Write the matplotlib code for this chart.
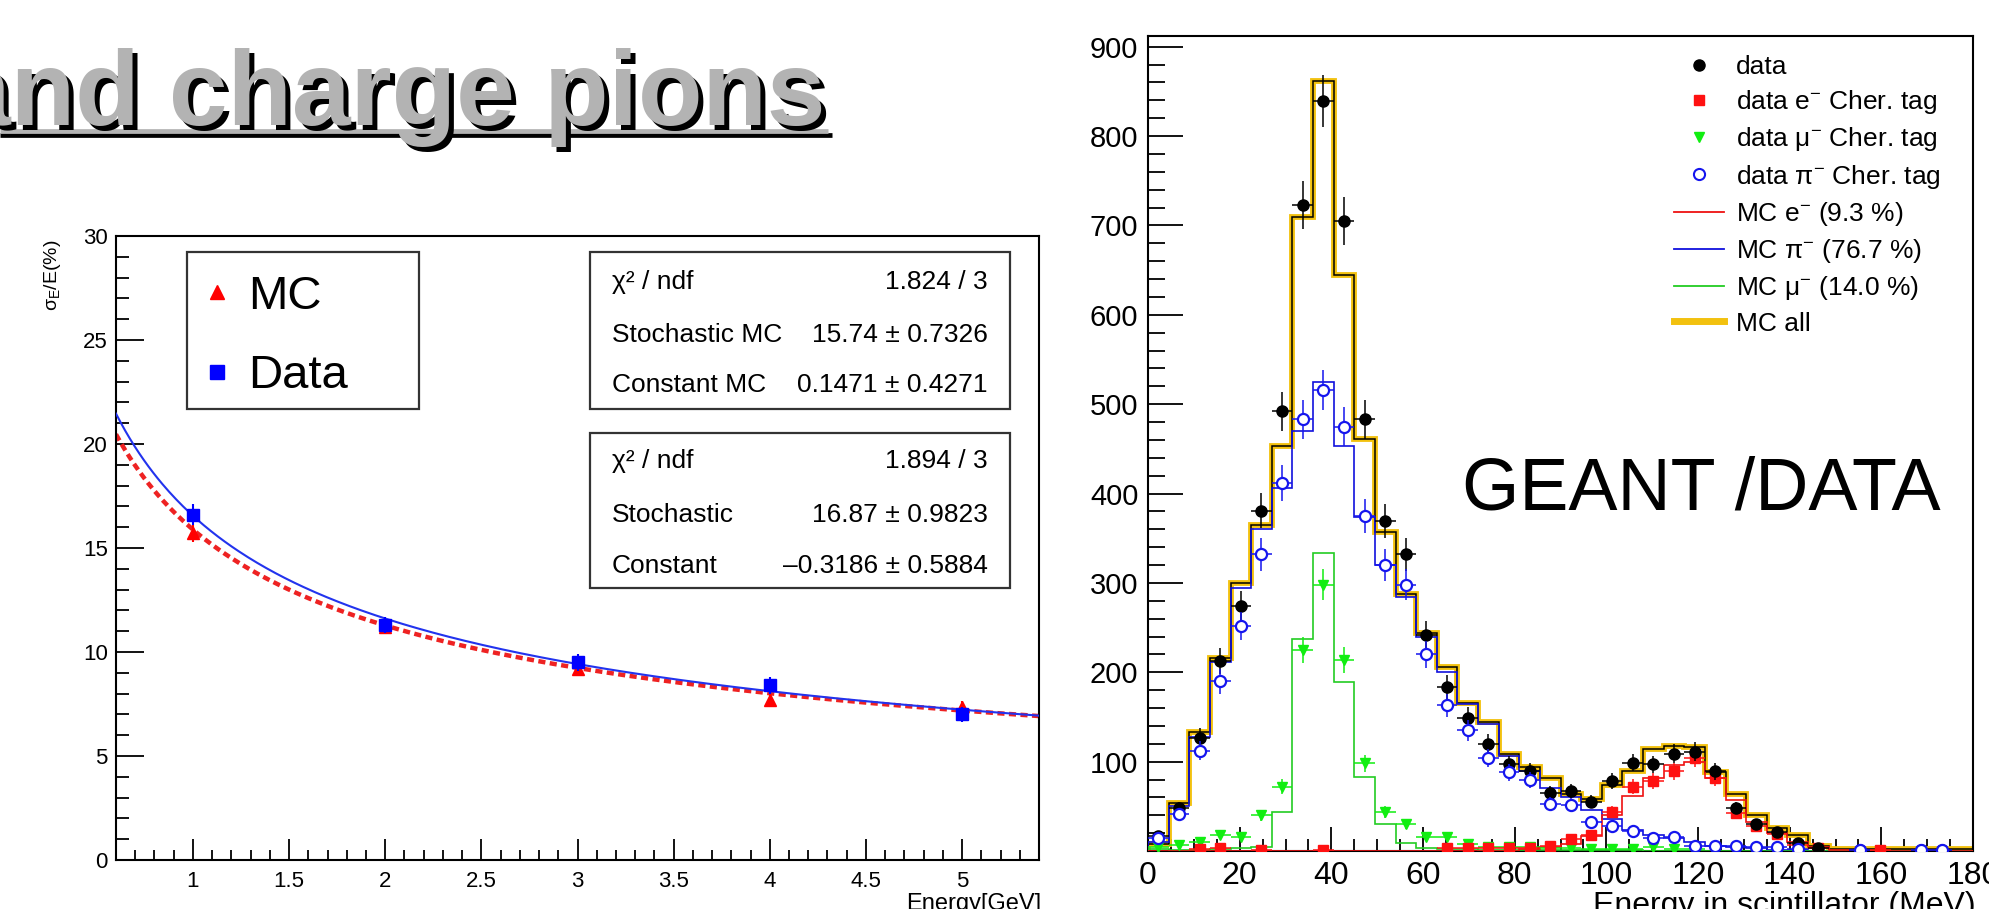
import numpy as np
import matplotlib
matplotlib.use('Agg')
import matplotlib.pyplot as plt
from matplotlib.patches import Rectangle
from matplotlib.lines import Line2D
from matplotlib.ticker import MultipleLocator, FixedLocator, FormatStrFormatter
import matplotlib.transforms as mtransforms

plt.rcParams['font.family'] = ['Liberation Sans', 'DejaVu Sans']
plt.rcParams['mathtext.fontset'] = 'custom'
plt.rcParams['mathtext.rm'] = 'Liberation Sans'
plt.rcParams['mathtext.it'] = 'Liberation Sans:italic'
plt.rcParams['mathtext.sf'] = 'Liberation Sans'

# ---------------- data: left panel (energy resolution) ----------------
energy = [1, 2, 3, 4, 5]
res_data = [16.6, 11.3, 9.5, 8.4, 7.0]
res_data_err = [0.5, 0.4, 0.4, 0.4, 0.35]
res_mc = [15.7, 11.2, 9.2, 7.7, 7.35]
res_mc_err = [0.4, 0.35, 0.3, 0.3, 0.3]
fit_data_stoch, fit_data_const = 16.87, -0.3186
fit_mc_stoch, fit_mc_const = 15.74, 0.1471
stat_mc = [("χ² / ndf", "1.824 / 3"),
           ("Stochastic MC", "15.74 ± 0.7326"),
           ("Constant MC", "0.1471 ± 0.4271")]
stat_data = [("χ² / ndf", "1.894 / 3"),
             ("Stochastic", "16.87 ± 0.9823"),
             ("Constant", "–0.3186 ± 0.5884")]

# ---------------- data: right panel (energy in scintillator) ----------------
bin_edges = np.linspace(0, 180, 41)
nan = np.nan
data_all = [17, 48, 126, 213, 274, 381, 492, 723, 839, 705, 483, 369, 332, 242, 183, 149, 120, 97, 89, 65,
            67, 55, 78, 99, 97, 109, 111, 89, 48, 30, 21, 9, 3, nan, 1, nan, nan, 1, 1, nan]
data_e = [nan, nan, 2, 3, nan, 1, nan, nan, 1, nan, nan, nan, nan, nan, 3, 3, 3, 3, 3, 6,
          13, 18, 44, 72, 78, 89, 104, 82, 42, 28, 19, 7, 3, nan, nan, 1, nan, nan, nan, nan]
data_mu = [4, 7, 10, 18, 16, 40, 72, 225, 298, 214, 98, 44, 30, 16, 16, 8, 5, 4, 4, 3,
           3, 2, 2, 2, 4, 2, 2, nan, nan, nan, nan, nan, nan, nan, nan, nan, nan, nan, nan, nan]
data_pi = [14, 41, 112, 190, 252, 332, 412, 483, 516, 475, 375, 320, 298, 220, 163, 135, 104, 88, 80, 53,
           52, 32, 28, 22, 15, 16, 6, 6, 6, 4, 4, 2, nan, nan, 1, nan, nan, 1, 1, nan]
mc_all = [8, 54, 133, 216, 300, 365, 453, 710, 862, 645, 461, 357, 288, 244, 206, 166, 144, 108, 94, 82,
          64, 58, 74, 90, 114, 118, 116, 88, 64, 40, 26, 18, 6, 2, 2, 2, 2, 2, 2, 2]
mc_pi = [10, 50, 128, 212, 294, 360, 406, 470, 525, 453, 374, 320, 284, 240, 200, 164, 142, 106, 90, 70,
         60, 46, 36, 24, 18, 14, 10, 6, 5, 3, 1, 1, 0, 0, 0, 0, 0, 0, 0, 0]
mc_mu = [2, 1, 1, 2, 3, 4, 44, 237, 334, 189, 83, 30, 9, 3, 2, 2, 1, 1, 1, 1,
         1, 1, 1, 1, 0, 0, 0, 0, 0, 0, 0, 0, 0, 0, 0, 0, 0, 0, 0, 0]
mc_e = [0, 0, 0, 0, 0, 0, 0, 0, 0, 0, 0, 0, 0, 0, 0, 0, 0, 0, 2, 4,
        8, 17, 40, 61, 82, 96, 100, 82, 57, 33, 20, 10, 4, 1, 0, 0, 0, 0, 0, 0]
legend_labels = ["data", "data e$^{-}$ Cher. tag", "data μ$^{-}$ Cher. tag", "data π$^{-}$ Cher. tag",
                 "MC e$^{-}$ (9.3 %)", "MC π$^{-}$ (76.7 %)", "MC μ$^{-}$ (14.0 %)", "MC all"]

W, H = 1990, 909
fig = plt.figure(figsize=(W / 100, H / 100), dpi=100)


def fx(px):
    return px / W


def fy(py):
    return (H - py) / H


# ---------------- left axes ----------------
L_l, L_r, L_t, L_b = 116, 1039, 236, 860
axL = fig.add_axes([fx(L_l), fy(L_b), fx(L_r - L_l), (L_b - L_t) / H])
axL.set_xlim(0.6, 5.4)
axL.set_ylim(0, 30)

xc = np.linspace(0.6, 5.4, 400)
axL.plot(xc, fit_mc_stoch / np.sqrt(xc) + fit_mc_const, color='#ee2222', lw=3.2,
         dashes=(1.6, 1.0), zorder=2)
axL.plot(xc, fit_data_stoch / np.sqrt(xc) + fit_data_const, color='#2233ee', lw=1.5, zorder=3)
axL.errorbar(energy, res_mc, yerr=res_mc_err, fmt='^', color='red', ms=9, elinewidth=1.5,
             capsize=0, zorder=4)
axL.errorbar(energy, res_data, yerr=res_data_err, fmt='s', color='blue', ms=9, elinewidth=1.5,
             capsize=0, zorder=5)

axL.xaxis.set_major_locator(MultipleLocator(0.5))
axL.xaxis.set_minor_locator(MultipleLocator(0.1))
axL.xaxis.set_major_formatter(FormatStrFormatter('%g'))
axL.yaxis.set_major_locator(MultipleLocator(5))
axL.yaxis.set_minor_locator(MultipleLocator(1))
axL.tick_params(which='both', direction='in', top=False, right=False, labelsize=16, width=1.3)
axL.tick_params(axis='y', which='major', length=20, pad=6)
axL.tick_params(axis='y', which='minor', length=9)
axL.tick_params(axis='x', which='major', length=15, pad=8)
axL.tick_params(axis='x', which='minor', length=7)
for s in axL.spines.values():
    s.set_linewidth(1.5)

# legend of left panel (box + entries)
h_mc = Line2D([], [], marker='^', color='red', ls='none', ms=10)
h_data = Line2D([], [], marker='s', color='blue', ls='none', ms=10)
legL = axL.legend([h_mc, h_data], ['MC', 'Data'], loc='upper left',
                  bbox_to_anchor=(fx(203), fy(275)), bbox_transform=fig.transFigure,
                  fontsize=34, frameon=False, borderpad=0, borderaxespad=0,
                  handlelength=0.6, handletextpad=0.35, labelspacing=0.75)
axL.add_patch(Rectangle((fx(187), fy(409)), fx(419 - 187), (409 - 252) / H,
                        transform=fig.transFigure, fill=True, fc='white', ec='#333333',
                        lw=1.6, zorder=1))

# stat boxes
for (top, bot, rows, ys) in [(252, 409, stat_mc, (282, 335, 385)),
                             (433, 588, stat_data, (461, 515, 566))]:
    axL.add_patch(Rectangle((fx(590), fy(bot)), fx(1010 - 590), (bot - top) / H,
                            transform=fig.transFigure, fc='white', ec='#333333', lw=1.6,
                            zorder=6))
    for (name, val), yy in zip(rows, ys):
        fig.text(fx(612), fy(yy), name, ha='left', va='center', fontsize=19, zorder=7)
        fig.text(fx(988), fy(yy), val, ha='right', va='center', fontsize=19, zorder=7)

fig.text(fx(1041), fy(893), 'Energy[GeV]', ha='right', va='top', fontsize=17)
fig.text(fx(53), fy(240), 'σ$_{\\rm E}$/E(%)', rotation=90, ha='center', va='top', fontsize=14)

# ---------------- right axes ----------------
R_l, R_r, R_t, R_b = 1148, 1973, 36, 851
axR = fig.add_axes([fx(R_l), fy(R_b), fx(R_r - R_l), (R_b - R_t) / H])
axR.set_xlim(0, 180)
axR.set_ylim(0, 912)

axR.stairs(mc_all, bin_edges, color='#f2c10f', lw=4.2, zorder=2)
axR.stairs(mc_all, bin_edges, color='black', lw=1.1, zorder=3)
axR.stairs(mc_pi, bin_edges, color='#1010dd', lw=1.2, zorder=4)
axR.stairs(mc_mu, bin_edges, color='#22cc22', lw=1.2, zorder=4)
axR.stairs(mc_e, bin_edges, color='#ee1111', lw=1.2, zorder=4)

centers = 0.5 * (bin_edges[:-1] + bin_edges[1:])
half = 0.5 * np.diff(bin_edges)


def errs(v):
    a = np.array(v, dtype=float)
    return np.sqrt(np.where(np.isnan(a), 0, a))


axR.errorbar(centers, data_mu, yerr=errs(data_mu), xerr=half, fmt='v', color='#11ee11', ms=7,
             elinewidth=1.1, capsize=0, zorder=5)
axR.errorbar(centers, data_e, yerr=errs(data_e), xerr=half, fmt='s', color='#ff1111', ms=7,
             elinewidth=1.1, capsize=0, zorder=6)
axR.errorbar(centers, data_all, yerr=errs(data_all), xerr=half, fmt='o', color='black', ms=8,
             elinewidth=1.1, capsize=0, zorder=7)
axR.errorbar(centers, data_pi, yerr=errs(data_pi), xerr=half, fmt='o', color='#1515ee', mfc='white',
             mew=1.6, ms=8, elinewidth=1.1, capsize=0, zorder=8)

axR.xaxis.set_major_locator(MultipleLocator(20))
axR.xaxis.set_minor_locator(MultipleLocator(5))
axR.yaxis.set_major_locator(FixedLocator([100, 200, 300, 400, 500, 600, 700, 800, 900]))
axR.yaxis.set_minor_locator(MultipleLocator(20))
axR.tick_params(which='both', direction='in', top=False, right=False, width=1.3)
axR.tick_params(axis='y', which='major', length=25, pad=7, labelsize=21)
axR.tick_params(axis='y', which='minor', length=12)
axR.tick_params(axis='x', which='major', length=17, pad=7, labelsize=23)
axR.tick_params(axis='x', which='minor', length=9)
for s in axR.spines.values():
    s.set_linewidth(1.5)

handles = [
    Line2D([], [], marker='o', color='black', ls='none', ms=8),
    Line2D([], [], marker='s', color='#ff1111', ls='none', ms=7),
    Line2D([], [], marker='v', color='#11ee11', ls='none', ms=7),
    Line2D([], [], marker='o', color='#1515ee', mfc='white', mew=1.5, ls='none', ms=8),
    Line2D([], [], color='#ee1111', lw=1.3),
    Line2D([], [], color='#1010dd', lw=1.3),
    Line2D([], [], color='#22cc22', lw=1.3),
    Line2D([], [], color='#f2c10f', lw=5),
]
axR.legend(handles, legend_labels, loc='upper left', bbox_to_anchor=(fx(1674), fy(55)),
           bbox_transform=fig.transFigure, fontsize=19, frameon=False, borderpad=0,
           borderaxespad=0, handlelength=1.9, handletextpad=0.45, labelspacing=0.35)

fig.text(fx(1462), fy(509), 'GEANT /DATA', ha='left', va='baseline', fontsize=53)
fig.text(fx(1976), fy(891), 'Energy in scintillator (MeV)', ha='right', va='top', fontsize=23)

# ---------------- title (with shadow and underline) ----------------
shadow = mtransforms.offset_copy(fig.transFigure, fig=fig, x=5, y=-5, units='dots')
fig.text(fx(826), fy(125), 'and charge pions', ha='right', va='baseline', fontsize=76,
         fontweight='bold', color='black', transform=shadow)
fig.text(fx(826), fy(125), 'and charge pions', ha='right', va='baseline', fontsize=76,
         fontweight='bold', color='#b3b3b3')
fig.add_artist(Line2D([0, fx(832)], [fy(135), fy(135)], transform=fig.transFigure,
                      color='black', lw=3.4, solid_capstyle='butt'))
fig.add_artist(Line2D([0, fx(828)], [fy(130.5), fy(130.5)], transform=fig.transFigure,
                      color='#b3b3b3', lw=3.4, solid_capstyle='butt'))

fig.savefig('out.png', dpi=100)
